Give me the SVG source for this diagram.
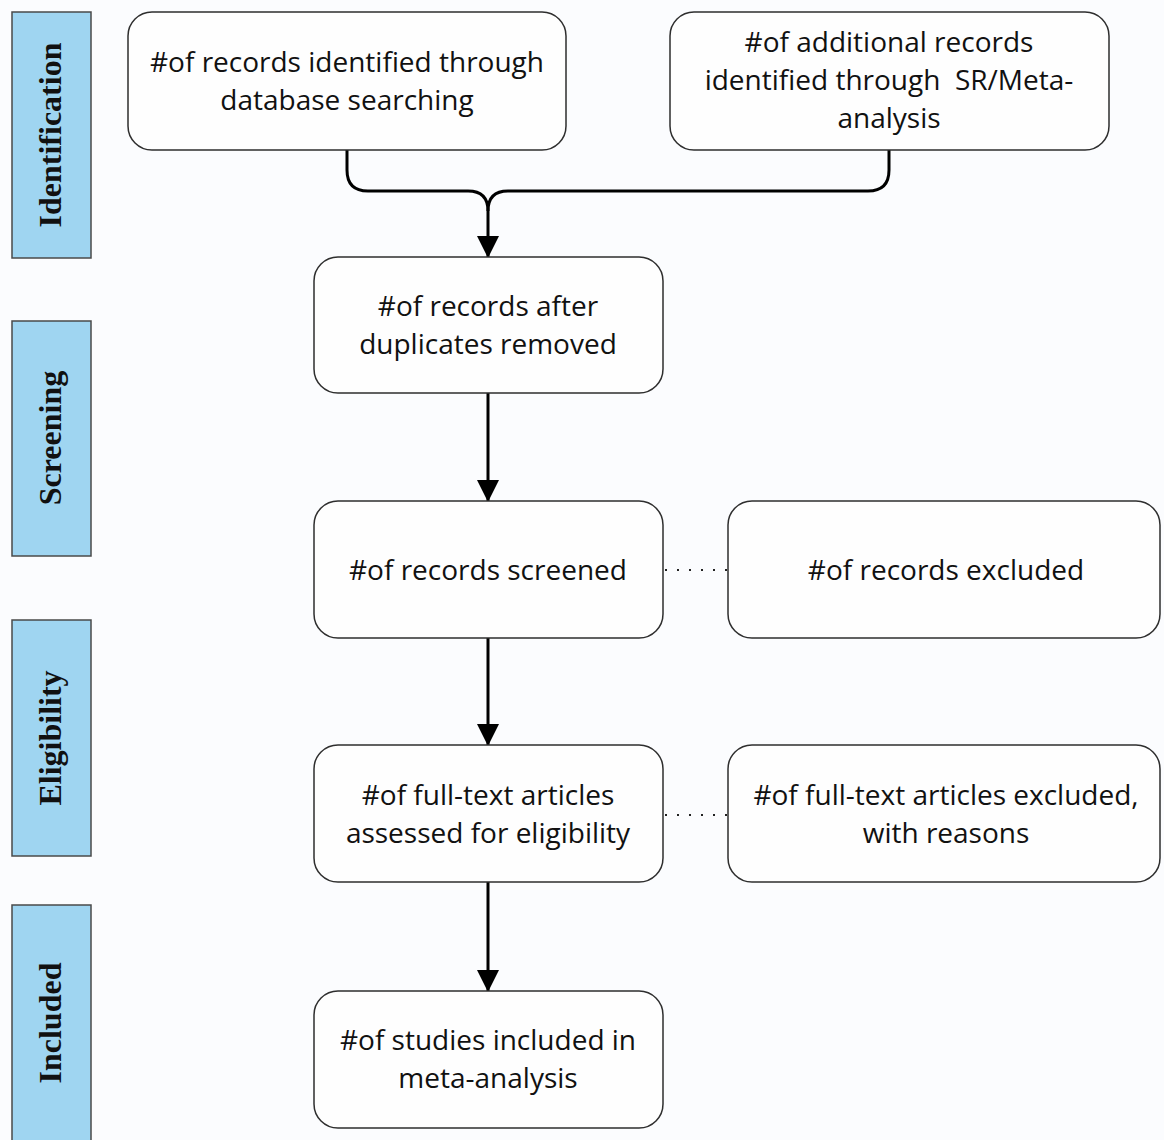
<svg xmlns="http://www.w3.org/2000/svg" width="1164" height="1140" viewBox="0 0 1164 1140">
<style>
.bg{fill:#fbfcfe}
.phase{fill:#9fd5f1;stroke:#4a4a4a;stroke-width:1.5}
.phase-t{font-family:"Liberation Serif","Times New Roman",serif;font-weight:bold;font-size:32px;fill:#111;text-anchor:middle}
.box{fill:#fefefe;stroke:#2e2e2e;stroke-width:1.5}
.t{font-family:"Open Sans","Noto Sans",sans-serif;font-size:28px;fill:#111;text-anchor:middle;white-space:pre}
.conn{fill:none;stroke:#000;stroke-width:3}
.dot{fill:none;stroke:#222;stroke-width:2;stroke-dasharray:2 10}
</style>
<defs>
<marker id="ah" markerUnits="userSpaceOnUse" markerWidth="22" markerHeight="22" viewBox="0 0 22 22" refX="21" refY="11" orient="auto">
<path d="M0,0 L22,11 L0,22 z" fill="#000"/>
</marker>
</defs>
<rect class="bg" x="0" y="0" width="1164" height="1140"/>

<g id="phase-identification">
<rect class="phase" x="12" y="12" width="79" height="246"/>
<text class="phase-t" transform="translate(61,135) rotate(-90)">Identification</text>
</g>
<g id="phase-screening">
<rect class="phase" x="12" y="321" width="79" height="235"/>
<text class="phase-t" transform="translate(61,438) rotate(-90)">Screening</text>
</g>
<g id="phase-eligibility">
<rect class="phase" x="12" y="620" width="79" height="236"/>
<text class="phase-t" transform="translate(61,738) rotate(-90)">Eligibility</text>
</g>
<g id="phase-included">
<rect class="phase" x="12" y="905" width="79" height="240"/>
<text class="phase-t" transform="translate(61,1023) rotate(-90)">Included</text>
</g>

<g id="connectors">
<path class="conn" d="M347,150 V170 Q347,191 368,191 H468 Q488,191 488,211 V257" marker-end="url(#ah)"/>
<path class="conn" d="M889,150 V170 Q889,191 868,191 H508 Q488,191 488,211"/>
<path class="conn" d="M488,393 V501" marker-end="url(#ah)"/>
<path class="conn" d="M488,638 V745" marker-end="url(#ah)"/>
<path class="conn" d="M488,882 V991" marker-end="url(#ah)"/>
<path class="dot" d="M665,570 H728"/>
<path class="dot" d="M665,815 H728"/>
</g>

<g id="n-database">
<rect class="box" x="128" y="12" width="438" height="138" rx="24"/>
<text class="t" x="347" y="72">#of records identified through</text>
<text class="t" x="347" y="110">database searching</text>
</g>
<g id="n-additional">
<rect class="box" x="670" y="12" width="439" height="138" rx="24"/>
<text class="t" x="889" y="52">#of additional records</text>
<text class="t" x="889" y="90" xml:space="preserve">identified through  SR/Meta-</text>
<text class="t" x="889" y="128">analysis</text>
</g>
<g id="n-dedup">
<rect class="box" x="314" y="257" width="349" height="136" rx="24"/>
<text class="t" x="488" y="316">#of records after</text>
<text class="t" x="488" y="354">duplicates removed</text>
</g>
<g id="n-screened">
<rect class="box" x="314" y="501" width="349" height="137" rx="24"/>
<text class="t" x="488" y="580">#of records screened</text>
</g>
<g id="n-excluded">
<rect class="box" x="728" y="501" width="432" height="137" rx="24"/>
<text class="t" x="946" y="580">#of records excluded</text>
</g>
<g id="n-fulltext">
<rect class="box" x="314" y="745" width="349" height="137" rx="24"/>
<text class="t" x="488" y="805">#of full-text articles</text>
<text class="t" x="488" y="843">assessed for eligibility</text>
</g>
<g id="n-fulltext-excluded">
<rect class="box" x="728" y="745" width="432" height="137" rx="24"/>
<text class="t" x="946" y="805">#of full-text articles excluded,</text>
<text class="t" x="946" y="843">with reasons</text>
</g>
<g id="n-included">
<rect class="box" x="314" y="991" width="349" height="137" rx="24"/>
<text class="t" x="488" y="1050">#of studies included in</text>
<text class="t" x="488" y="1088">meta-analysis</text>
</g>
</svg>
